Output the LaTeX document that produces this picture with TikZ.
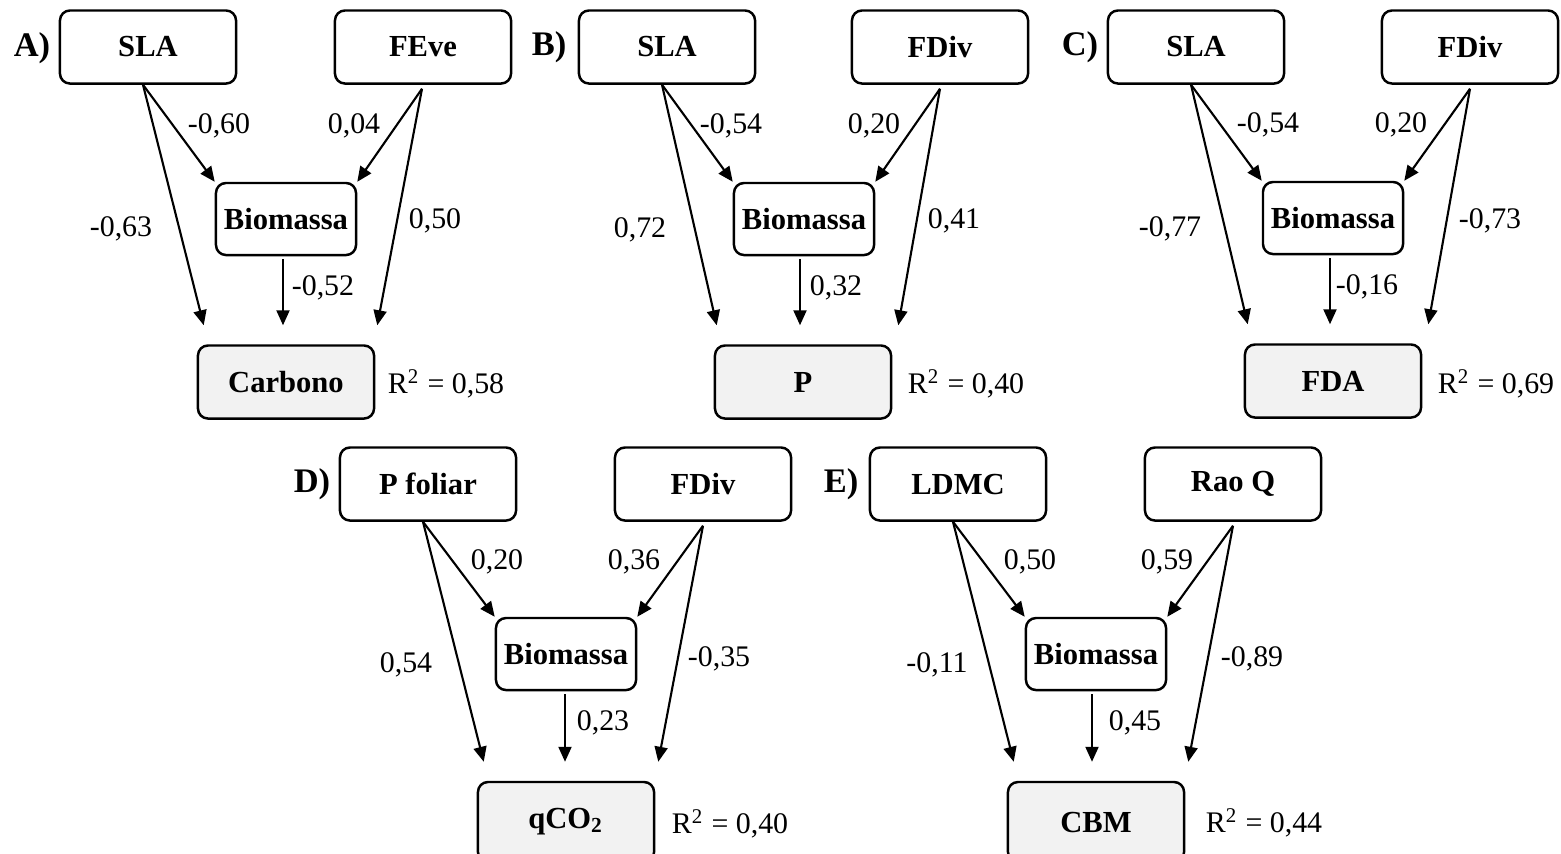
\documentclass[tikz,border=0pt]{standalone}
\usepackage{fontspec}
\setmainfont{Liberation Serif}
\usepackage{tikz}
\usetikzlibrary{arrows.meta, shapes}
\definecolor{respgray}{HTML}{F2F2F2}
\tikzstyle{var} = [rectangle, rounded corners=0.1cm, minimum width=1.76cm, minimum height=0.73cm, inner sep=0pt, text centered, draw=black, line width=0.7pt, font=\fontsize{8.7}{10}\selectfont\bfseries]
\tikzstyle{biom} = [var, minimum width=1.4cm, minimum height=0.72cm]
\tikzstyle{resp} = [var, fill=respgray]
\tikzstyle{coef} = [font=\fontsize{8.5}{10}\selectfont]
\tikzstyle{panel} = [font=\fontsize{9.8}{11}\selectfont\bfseries]
\tikzstyle{arrow} = [line width=0.6pt, -{Triangle[length=0.15cm, width=0.13cm]}]

\begin{document}
\begin{tikzpicture}[x=0.01cm, y=-0.01cm]
			\useasboundingbox (0,0) rectangle (1561,853);
			% A) Carbono
			\node(lab_a)[panel] at (32,48) {A)};
			\node(sla_a)[var] at (148,47) {SLA};
			\node(feve_a)[var] at (423,47) {FEve};
			\node(biom_a)[biom] at (286,219) {Biomassa};
			\node(carb_a)[resp] at (286,382) {Carbono};
			\node(r2_a)[coef] at (446,384) {R\textsuperscript{2} = 0,58};
			\draw [arrow] ([xshift=-0.05cm]sla_a.south) -- (biom_a.north west);
			\draw [arrow] ([xshift=-0.05cm]sla_a.south) -- ([shift={(7,-19)}]carb_a.north west);
			\draw [arrow] ([shift={(-3,3)}]biom_a.south) -- ([shift={(-3,-19)}]carb_a.north);
			\draw [arrow] ([shift={(-1,4)}]feve_a.south) -- (biom_a.north east);
			\draw [arrow] ([shift={(-1,4)}]feve_a.south) -- ([shift={(2,-19)}]carb_a.north east);
			\node(c1_a)[coef] at (219,126) {-0,60};
			\node(c2_a)[coef] at (354,126) {0,04};
			\node(c3_a)[coef] at (121,229) {-0,63};
			\node(c4_a)[coef] at (435,221) {0,50};
			\node(c5_a)[coef] at (323,288) {-0,52};

			% B) P
			\node(lab_b)[panel] at (549,47) {B)};
			\node(sla_b)[var] at (667,47) {SLA};
			\node(fdiv_b)[var] at (940,47) {FDiv};
			\node(biom_b)[biom] at (804,219) {Biomassa};
			\node(p_b)[resp] at (803,382) {P};
			\node(r2_b)[coef] at (966,384) {R\textsuperscript{2} = 0,40};
			\draw [arrow] ([xshift=-0.05cm]sla_b.south) -- (biom_b.north west);
			\draw [arrow] ([xshift=-0.05cm]sla_b.south) -- ([shift={(3,-19)}]p_b.north west);
			\draw [arrow] ([shift={(-4,3)}]biom_b.south) -- ([shift={(-3,-19)}]p_b.north);
			\draw [arrow] ([shift={(0,4)}]fdiv_b.south) -- (biom_b.north east);
			\draw [arrow] ([shift={(0,4)}]fdiv_b.south) -- ([shift={(6,-19)}]p_b.north east);
			\node(c1_b)[coef] at (731,126) {-0,54};
			\node(c2_b)[coef] at (874,126) {0,20};
			\node(c3_b)[coef] at (640,230) {0,72};
			\node(c4_b)[coef] at (954,221) {0,41};
			\node(c5_b)[coef] at (836,288) {0,32};

			% C) FDA
			\node(lab_c)[panel] at (1080,47) {C)};
			\node(sla_c)[var] at (1196,47) {SLA};
			\node(fdiv_c)[var] at (1470,47) {FDiv};
			\node(biom_c)[biom] at (1333,218) {Biomassa};
			\node(fda_c)[resp] at (1333,381) {FDA};
			\node(r2_c)[coef] at (1496,384) {R\textsuperscript{2} = 0,69};
			\draw [arrow] ([xshift=-0.05cm]sla_c.south) -- (biom_c.north west);
			\draw [arrow] ([xshift=-0.05cm]sla_c.south) -- ([shift={(4,-19)}]fda_c.north west);
			\draw [arrow] ([shift={(-3,3)}]biom_c.south) -- ([shift={(-3,-19)}]fda_c.north);
			\draw [arrow] ([shift={(0,4)}]fdiv_c.south) -- (biom_c.north east);
			\draw [arrow] ([shift={(0,4)}]fdiv_c.south) -- ([shift={(6,-19)}]fda_c.north east);
			\node(c1_c)[coef] at (1268,125) {-0,54};
			\node(c2_c)[coef] at (1401,125) {0,20};
			\node(c3_c)[coef] at (1170,229) {-0,77};
			\node(c4_c)[coef] at (1490,221) {-0,73};
			\node(c5_c)[coef] at (1367,287) {-0,16};

			% D) qCO2
			\node(lab_d)[panel] at (312,484) {D)};
			\node(pfol_d)[var] at (428,484) {P foliar};
			\node(fdiv_d)[var] at (703,484) {FDiv};
			\node(biom_d)[biom] at (566,654) {Biomassa};
			\node(qco_d)[resp, minimum height=0.8cm] at (566,822) {qCO\textsubscript{2}};
			\node(r2_d)[coef] at (730,824) {R\textsuperscript{2} = 0,40};
			\draw [arrow] ([xshift=-0.05cm]pfol_d.south) -- (biom_d.north west);
			\draw [arrow] ([xshift=-0.05cm]pfol_d.south) -- ([shift={(7,-19)}]qco_d.north west);
			\draw [arrow] ([shift={(-1,3)}]biom_d.south) -- ([shift={(-1,-19)}]qco_d.north);
			\draw [arrow] ([shift={(0,4)}]fdiv_d.south) -- (biom_d.north east);
			\draw [arrow] ([shift={(0,4)}]fdiv_d.south) -- ([shift={(3,-19)}]qco_d.north east);
			\node(c1_d)[coef] at (497,562) {0,20};
			\node(c2_d)[coef] at (634,562) {0,36};
			\node(c3_d)[coef] at (406,665) {0,54};
			\node(c4_d)[coef] at (719,659) {-0,35};
			\node(c5_d)[coef] at (603,723) {0,23};

			% E) CBM
			\node(lab_e)[panel] at (841,484) {E)};
			\node(ldmc_e)[var] at (958,484) {LDMC};
			\node(rao_e)[var] at (1233,484) {Rao Q};
			\node(biom_e)[biom] at (1096,654) {Biomassa};
			\node(cbm_e)[resp, minimum height=0.8cm] at (1096,822) {CBM};
			\node(r2_e)[coef] at (1264,823) {R\textsuperscript{2} = 0,44};
			\draw [arrow] ([xshift=-0.05cm]ldmc_e.south) -- (biom_e.north west);
			\draw [arrow] ([xshift=-0.05cm]ldmc_e.south) -- ([shift={(7,-19)}]cbm_e.north west);
			\draw [arrow] ([shift={(-4,3)}]biom_e.south) -- ([shift={(-4,-19)}]cbm_e.north);
			\draw [arrow] ([shift={(0,4)}]rao_e.south) -- (biom_e.north east);
			\draw [arrow] ([shift={(0,4)}]rao_e.south) -- ([shift={(3,-19)}]cbm_e.north east);
			\node(c1_e)[coef] at (1030,562) {0,50};
			\node(c2_e)[coef] at (1167,562) {0,59};
			\node(c3_e)[coef] at (937,665) {-0,11};
			\node(c4_e)[coef] at (1252,659) {-0,89};
			\node(c5_e)[coef] at (1135,723) {0,45};
		\end{tikzpicture}
\end{document}
